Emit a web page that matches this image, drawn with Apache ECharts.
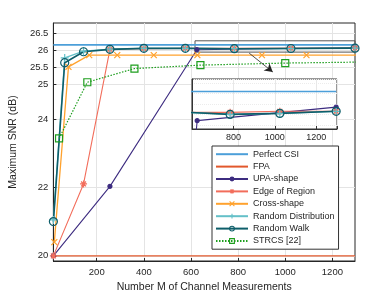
<!DOCTYPE html>
<html>
<head>
<meta charset="utf-8">
<script src="https://cdn.jsdelivr.net/npm/echarts@6/dist/echarts.min.js"></script>
<style>html,body{margin:0;padding:0;background:#fff}#c{width:392px;height:298px}</style>
</head>
<body>
<div id="c"></div>
<script>
// ---- data ----
const xTicks = [200, 400, 600, 800, 1000, 1200];
const yTicks = [20, 22, 24, 25, 25.5, 26, 26.5];
const insetXTicks = [800, 1000, 1200];

const perfectM = [16, 1296];
const perfectSNR = [26.16, 26.16];
const fpaM = [16, 1296];
const fpaSNR = [20, 20];
const upaM = [16, 256, 625, 1296];
const upaSNR = [20, 22.03, 26.02, 26.085];
const edgeM = [16, 144, 256, 400, 576, 784, 1024, 1296];
const edgeSNR = [20, 22.1, 26.03, 26.05, 26.06, 26.06, 26.065, 26.065];
const crossM = [20, 80, 168, 287, 442, 627, 901, 1090, 1340];
const crossSNR = [20.4, 25.52, 25.86, 25.86, 25.86, 25.86, 25.86, 25.86, 25.86];
const rdM = [16, 64, 144, 256, 400, 576, 784, 1024, 1296];
const rdSNR = [21.05, 25.78, 25.98, 26.04, 26.06, 26.06, 26.05, 26.055, 26.065];
const rwM = [16, 64, 144, 256, 400, 576, 784, 1024, 1296];
const rwSNR = [21.0, 25.64, 25.96, 26.03, 26.06, 26.06, 26.05, 26.055, 26.065];
const strcsM = [40, 160, 360, 640, 1000, 1440];
const strcsSNR = [23.43, 25.07, 25.47, 25.57, 25.63, 25.67];

const pairs = (xs, ys) => xs.map((x, i) => [x, ys[i]]);

const FONT = 'Liberation Sans';
const TXT = '#262626';
const SYM_X = 'path://M0,0L10,10M10,0L0,10';
const SYM_AST = 'path://M5,0L5,10M0,5L10,5M1.5,1.5L8.5,8.5M8.5,1.5L1.5,8.5';
const SYM_PLUS = 'path://M5,0L5,10M0,5L10,5';

const styles = [
  {name:'Perfect CSI', x:perfectM, y:perfectSNR, color:'#4c9fd9', symbol:'none', size:0, width:1.6},
  {name:'FPA', x:fpaM, y:fpaSNR, color:'#e2582c', symbol:'none', size:0, width:1.4},
  {name:'UPA-shape', x:upaM, y:upaSNR, color:'#3d2c80', symbol:'circle', size:4, width:1.1, fill:true},
  {name:'Edge of Region', x:edgeM, y:edgeSNR, color:'#f26d5b', symbol:SYM_AST, size:7, width:1.1},
  {name:'Cross-shape', x:crossM, y:crossSNR, color:'#ffa22e', symbol:SYM_X, size:6, width:1.3},
  {name:'Random Distribution', x:rdM, y:rdSNR, color:'#64c0c8', symbol:SYM_PLUS, size:8, width:1.3},
  {name:'Random Walk', x:rwM, y:rwSNR, color:'#0e5e6a', symbol:'circle', size:8, width:1.6},
  {name:'STRCS [22]', x:strcsM, y:strcsSNR, color:'#1e9e1e', symbol:'rect', size:7, width:1.2, dotted:true}
];

function mkSeries(s, idx, inset) {
  return {
    name: s.name, type: 'line',
    xAxisIndex: idx, yAxisIndex: idx,
    data: pairs(s.x, s.y),
    symbol: s.symbol, symbolSize: s.size, showSymbol: s.symbol !== 'none',
    clip: true, animation: false, silent: true,
    z: inset ? 6 : 2,
    lineStyle: {color: s.color, width: s.width, type: s.dotted ? [1.5, 1.5] : 'solid'},
    itemStyle: {color: s.fill ? s.color : 'rgba(0,0,0,0)', borderColor: s.color, borderWidth: 1.2},
    emphasis: {disabled: true}
  };
}

const series = [];
styles.forEach(s => series.push(mkSeries(s, 0, false)));
styles.forEach(s => series.push(mkSeries(s, 1, true)));

// zoom box and arrow on the main axes
series[0].markArea = {
  silent: true,
  itemStyle: {color: 'rgba(0,0,0,0)', borderColor: '#555', borderWidth: 1},
  data: [[{coord: [617, 26.28]}, {coord: [1296, 25.95]}]]
};
series[0].markLine = {
  silent: true, symbol: ['none', 'arrow'], symbolSize: [7, 8],
  label: {show: false},
  lineStyle: {color: '#222', width: 0.8, type: 'solid'},
  data: [[{coord: [847, 25.92]}, {coord: [947, 25.37]}]]
};

const legendData = styles.map(s => {
  const d = {name: s.name};
  if (s.symbol === 'none') d.itemStyle = {color: 'rgba(0,0,0,0)', borderWidth: 0, opacity: 0};
  else if (s.fill) d.itemStyle = {color: s.color, borderColor: s.color, borderWidth: 0};
  else d.itemStyle = {color: 'rgba(0,0,0,0)', borderColor: s.color, borderWidth: 1.1};
  return d;
});

const chart = echarts.init(document.getElementById('c'), null, {renderer: 'canvas'});
chart.setOption({
  animation: false,
  backgroundColor: '#fff',
  textStyle: {fontFamily: FONT},
  grid: [
    {left: 50, right: 37, top: 23, bottom: 37, show: true, borderColor: '#262626', borderWidth: 1, backgroundColor: '#fff'},
    {left: 192, top: 79, width: 145, height: 50, show: true, borderColor: '#333', borderWidth: 1, backgroundColor: '#fff', z: 4}
  ],
  xAxis: [
    {type: 'value', gridIndex: 0, min: 16, max: 1296,
     name: 'Number M of Channel Measurements', nameLocation: 'middle', nameGap: 20,
     nameTextStyle: {fontSize: 10.5, color: TXT, fontFamily: FONT},
     axisLine: {show: true, lineStyle: {color: '#262626'}},
     axisTick: {show: true, inside: true, length: 3, customValues: xTicks, lineStyle: {color: '#262626'}},
     axisLabel: {customValues: xTicks, fontSize: 9.5, color: TXT, margin: 6, fontFamily: FONT, formatter: v => String(v)},
     splitLine: {show: true, lineStyle: {color: '#e4e4e4', width: 1}}
    },
    {type: 'value', gridIndex: 1, min: 600, max: 1300, interval: 200, z: 5,
     axisLine: {show: true, lineStyle: {color: '#333'}},
     axisTick: {show: true, inside: true, length: 3, lineStyle: {color: '#333'}},
     axisLabel: {fontSize: 9, color: TXT, margin: 4, fontFamily: FONT,
                 formatter: v => insetXTicks.includes(v) ? String(v) : ''},
     splitLine: {show: true, lineStyle: {color: '#e8e8e8'}}
    }
  ],
  yAxis: [
    {type: 'value', gridIndex: 0, min: 19.85, max: 26.8,
     name: 'Maximum SNR (dB)', nameLocation: 'middle', nameGap: 24, nameRotate: 90,
     nameTextStyle: {fontSize: 10.5, color: TXT, fontFamily: FONT},
     axisLine: {show: true, lineStyle: {color: '#262626'}},
     axisTick: {show: true, inside: true, length: 3, customValues: yTicks, lineStyle: {color: '#262626'}},
     axisLabel: {customValues: yTicks, fontSize: 9.5, color: TXT, margin: 5, fontFamily: FONT},
     splitLine: {show: true, lineStyle: {color: '#e4e4e4', width: 1}}
    },
    {type: 'value', gridIndex: 1, min: 25.98, max: 26.22, z: 5,
     axisLine: {show: true, lineStyle: {color: '#333'}},
     axisTick: {show: false},
     axisLabel: {show: false},
     splitLine: {show: true, lineStyle: {color: '#ececec', type: 'dotted'}}
    }
  ],
  legend: {
    data: legendData,
    orient: 'vertical', left: 212, top: 146,
    backgroundColor: '#fff', borderColor: '#333', borderWidth: 1,
    padding: [3, 4, 3, 3], itemGap: 2, itemWidth: 32, itemHeight: 6,
    textStyle: {fontSize: 9, color: TXT, fontFamily: FONT, lineHeight: 10.4},
    selectedMode: false, z: 10
  },
  series: series
});
</script>
</body>
</html>
